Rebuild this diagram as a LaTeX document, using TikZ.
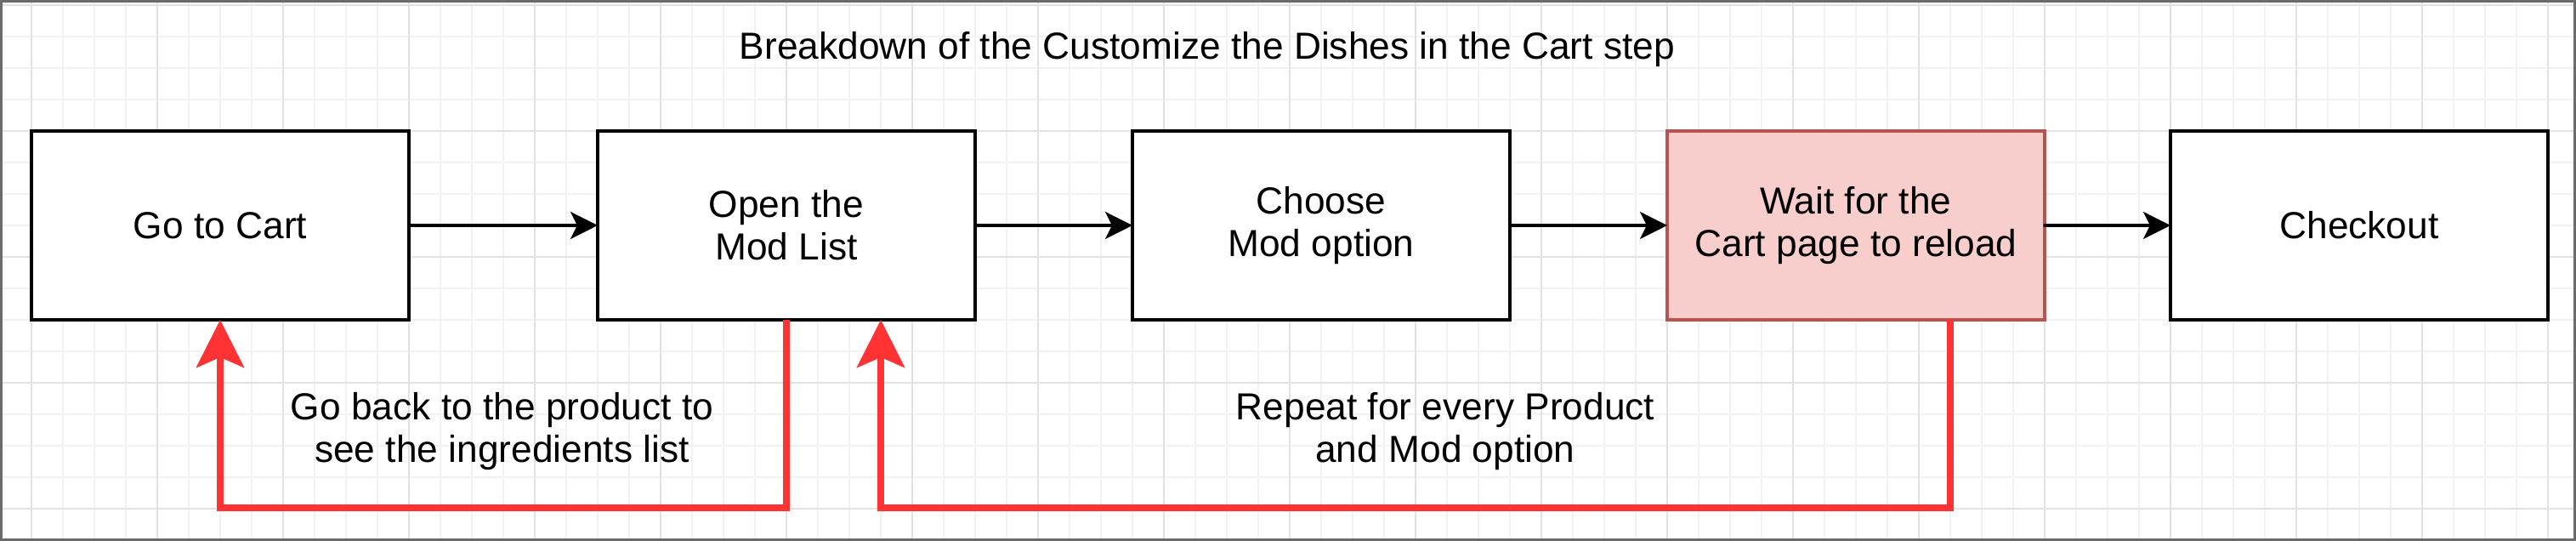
\documentclass[tikz,border=0pt]{standalone}
\usepackage{fontspec}
\setmainfont{Liberation Sans}
\usetikzlibrary{arrows.meta}
\usetikzlibrary{positioning}

\definecolor{gridminor}{HTML}{F2F2F2}
\definecolor{gridmajor}{HTML}{E2E2E2}
\definecolor{loopred}{HTML}{FF3333}
\definecolor{waitfill}{HTML}{F8CECC}
\definecolor{waitdraw}{HTML}{B85450}
\definecolor{framegray}{HTML}{6B6B6B}

\begin{document}
\begin{tikzpicture}[line cap=round, scale = 1,
    font=\fontsize{12.6}{14.2}\selectfont,
    stepbox/.style={draw=black, fill=white, line width=0.035cm, minimum width=4.44cm, minimum height=2.22cm, inner sep=0pt, outer sep=0pt, align=center},
    waitbox/.style={stepbox, draw=waitdraw, fill=waitfill},
    flow/.style={line width=0.035cm, -{Stealth[length=3.2mm, width=3.2mm, inset=0.8mm]}},
    loopback/.style={loopred, line width=0.08cm, line cap=butt, line join=miter, -{Stealth[length=5.6mm, width=5.6mm, inset=1.2mm]}},
    note/.style={align=center, inner sep=0pt}]

    \useasboundingbox (0, 0) rectangle (30.30, 6.36);

    % grid
    \foreach \i in {0, ..., 81} {
        \draw[gridminor, line width=0.02cm] ({0.37*\i}, 0) -- ({0.37*\i}, 6.36);
    }
    \foreach \j in {0, ..., 17} {
        \draw[gridminor, line width=0.02cm] (0, {6.30 - 0.37*\j}) -- (30.30, {6.30 - 0.37*\j});
    }
    \foreach \k in {0, ..., 20} {
        \draw[gridmajor, line width=0.02cm] ({0.37 + 1.48*\k}, 0) -- ({0.37 + 1.48*\k}, 6.36);
    }
    \foreach \k in {0, ..., 4} {
        \draw[gridmajor, line width=0.02cm] (0, {6.30 - 1.48*\k}) -- (30.30, {6.30 - 1.48*\k});
    }

    \node[note, anchor=base] (title) at (14.20, 5.66) {Breakdown of the Customize the Dishes in the Cart step};

    \node[stepbox] (cart) at (2.59, 3.71) {Go to Cart};
    \node[stepbox, right=2.22cm of cart] (modlist) {Open the\\Mod List};
    \node[stepbox, right=1.85cm of modlist] (option) {Choose\\Mod option};
    \node[waitbox, right=1.85cm of option] (reload) {Wait for the\\Cart page to reload};
    \node[stepbox, right=1.48cm of reload] (checkout) {Checkout};

    \draw[flow] (cart) -- (modlist);
    \draw[flow] (modlist) -- (option);
    \draw[flow] (option) -- (reload);
    \draw[flow] (reload) -- (checkout);

    % loops back
    \coordinate (floor) at (0, 0.39);
    \coordinate (reloadout) at ([xshift=1.11cm]reload.south);
    \coordinate (modlistin) at ([xshift=1.11cm]modlist.south);
    \draw[loopback] (modlist.south) -- (modlist.south |- floor) -| (cart.south);
    \draw[loopback] (reloadout) -- (reloadout |- floor) -| (modlistin);

    \node[note] (backnote) at (5.905, 1.29) {Go back to the product to\\see the ingredients list};
    \node[note] (repeatnote) at (17.00, 1.29) {Repeat for every Product\\and Mod option};

    \draw[framegray, line width=0.03cm] (0.015, 0.015) rectangle (30.285, 6.345);
\end{tikzpicture}
\end{document}
